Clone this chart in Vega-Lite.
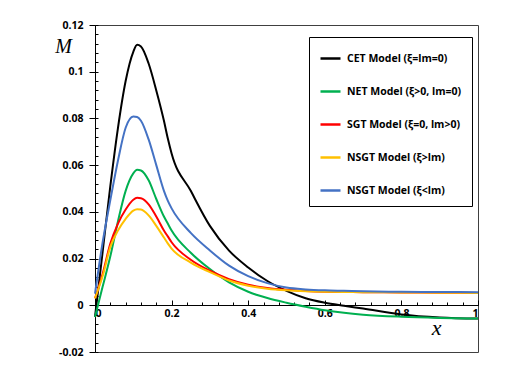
{
  "$schema": "https://vega.github.io/schema/vega-lite/v6.json",
  "width": 383,
  "height": 327,
  "autosize": {"type": "none"},
  "padding": {"left": 95, "top": 25, "right": 32, "bottom": 29},
  "background": "white",
  "config": {
    "view": {"stroke": "#404040", "strokeWidth": 1},
    "axis": {"grid": false, "domainColor": "#000000", "tickColor": "#000000", "labelFont": "Open Sans", "labelFontWeight": 700, "labelFontSize": 10.5, "labelColor": "#000000"}
  },
  "datasets": {
    "curves": [
      {"x": 0, "M": -0.005, "s": "CET Model (ξ=lm=0)"},
      {"x": 0.02, "M": 0.023, "s": "CET Model (ξ=lm=0)"},
      {"x": 0.04, "M": 0.051, "s": "CET Model (ξ=lm=0)"},
      {"x": 0.06, "M": 0.076, "s": "CET Model (ξ=lm=0)"},
      {"x": 0.08, "M": 0.096, "s": "CET Model (ξ=lm=0)"},
      {"x": 0.1, "M": 0.1085, "s": "CET Model (ξ=lm=0)"},
      {"x": 0.11, "M": 0.1115, "s": "CET Model (ξ=lm=0)"},
      {"x": 0.12, "M": 0.1108, "s": "CET Model (ξ=lm=0)"},
      {"x": 0.14, "M": 0.1035, "s": "CET Model (ξ=lm=0)"},
      {"x": 0.16, "M": 0.092, "s": "CET Model (ξ=lm=0)"},
      {"x": 0.18, "M": 0.079, "s": "CET Model (ξ=lm=0)"},
      {"x": 0.19, "M": 0.0715, "s": "CET Model (ξ=lm=0)"},
      {"x": 0.2, "M": 0.065, "s": "CET Model (ξ=lm=0)"},
      {"x": 0.25, "M": 0.049, "s": "CET Model (ξ=lm=0)"},
      {"x": 0.3, "M": 0.034, "s": "CET Model (ξ=lm=0)"},
      {"x": 0.35, "M": 0.0234, "s": "CET Model (ξ=lm=0)"},
      {"x": 0.4, "M": 0.0162, "s": "CET Model (ξ=lm=0)"},
      {"x": 0.45, "M": 0.0104, "s": "CET Model (ξ=lm=0)"},
      {"x": 0.5, "M": 0.0062, "s": "CET Model (ξ=lm=0)"},
      {"x": 0.55, "M": 0.003, "s": "CET Model (ξ=lm=0)"},
      {"x": 0.6, "M": 0.0011, "s": "CET Model (ξ=lm=0)"},
      {"x": 0.65, "M": -0.0002, "s": "CET Model (ξ=lm=0)"},
      {"x": 0.7, "M": -0.0014, "s": "CET Model (ξ=lm=0)"},
      {"x": 0.8, "M": -0.0039, "s": "CET Model (ξ=lm=0)"},
      {"x": 0.9, "M": -0.0052, "s": "CET Model (ξ=lm=0)"},
      {"x": 1, "M": -0.0057, "s": "CET Model (ξ=lm=0)"},

      {"x": 0, "M": -0.005, "s": "NET Model (ξ>0, lm=0)"},
      {"x": 0.02, "M": 0.008, "s": "NET Model (ξ>0, lm=0)"},
      {"x": 0.04, "M": 0.021, "s": "NET Model (ξ>0, lm=0)"},
      {"x": 0.06, "M": 0.036, "s": "NET Model (ξ>0, lm=0)"},
      {"x": 0.08, "M": 0.049, "s": "NET Model (ξ>0, lm=0)"},
      {"x": 0.1, "M": 0.0565, "s": "NET Model (ξ>0, lm=0)"},
      {"x": 0.11, "M": 0.058, "s": "NET Model (ξ>0, lm=0)"},
      {"x": 0.12, "M": 0.0577, "s": "NET Model (ξ>0, lm=0)"},
      {"x": 0.14, "M": 0.0535, "s": "NET Model (ξ>0, lm=0)"},
      {"x": 0.16, "M": 0.0455, "s": "NET Model (ξ>0, lm=0)"},
      {"x": 0.18, "M": 0.038, "s": "NET Model (ξ>0, lm=0)"},
      {"x": 0.19, "M": 0.035, "s": "NET Model (ξ>0, lm=0)"},
      {"x": 0.2, "M": 0.032, "s": "NET Model (ξ>0, lm=0)"},
      {"x": 0.25, "M": 0.0225, "s": "NET Model (ξ>0, lm=0)"},
      {"x": 0.3, "M": 0.0155, "s": "NET Model (ξ>0, lm=0)"},
      {"x": 0.35, "M": 0.0098, "s": "NET Model (ξ>0, lm=0)"},
      {"x": 0.4, "M": 0.0058, "s": "NET Model (ξ>0, lm=0)"},
      {"x": 0.45, "M": 0.0031, "s": "NET Model (ξ>0, lm=0)"},
      {"x": 0.5, "M": 0.0011, "s": "NET Model (ξ>0, lm=0)"},
      {"x": 0.55, "M": -0.0006, "s": "NET Model (ξ>0, lm=0)"},
      {"x": 0.6, "M": -0.0021, "s": "NET Model (ξ>0, lm=0)"},
      {"x": 0.65, "M": -0.0032, "s": "NET Model (ξ>0, lm=0)"},
      {"x": 0.7, "M": -0.004, "s": "NET Model (ξ>0, lm=0)"},
      {"x": 0.8, "M": -0.0049, "s": "NET Model (ξ>0, lm=0)"},
      {"x": 0.9, "M": -0.0054, "s": "NET Model (ξ>0, lm=0)"},
      {"x": 1, "M": -0.0057, "s": "NET Model (ξ>0, lm=0)"},

      {"x": 0, "M": 0.003, "s": "SGT Model (ξ=0, lm>0)"},
      {"x": 0.02, "M": 0.0135, "s": "SGT Model (ξ=0, lm>0)"},
      {"x": 0.04, "M": 0.0264, "s": "SGT Model (ξ=0, lm>0)"},
      {"x": 0.06, "M": 0.035, "s": "SGT Model (ξ=0, lm>0)"},
      {"x": 0.08, "M": 0.041, "s": "SGT Model (ξ=0, lm>0)"},
      {"x": 0.1, "M": 0.0452, "s": "SGT Model (ξ=0, lm>0)"},
      {"x": 0.11, "M": 0.046, "s": "SGT Model (ξ=0, lm>0)"},
      {"x": 0.12, "M": 0.0458, "s": "SGT Model (ξ=0, lm>0)"},
      {"x": 0.14, "M": 0.0432, "s": "SGT Model (ξ=0, lm>0)"},
      {"x": 0.16, "M": 0.038, "s": "SGT Model (ξ=0, lm>0)"},
      {"x": 0.18, "M": 0.032, "s": "SGT Model (ξ=0, lm>0)"},
      {"x": 0.19, "M": 0.0295, "s": "SGT Model (ξ=0, lm>0)"},
      {"x": 0.2, "M": 0.027, "s": "SGT Model (ξ=0, lm>0)"},
      {"x": 0.25, "M": 0.0195, "s": "SGT Model (ξ=0, lm>0)"},
      {"x": 0.3, "M": 0.0148, "s": "SGT Model (ξ=0, lm>0)"},
      {"x": 0.35, "M": 0.0112, "s": "SGT Model (ξ=0, lm>0)"},
      {"x": 0.4, "M": 0.0088, "s": "SGT Model (ξ=0, lm>0)"},
      {"x": 0.45, "M": 0.0074, "s": "SGT Model (ξ=0, lm>0)"},
      {"x": 0.5, "M": 0.0066, "s": "SGT Model (ξ=0, lm>0)"},
      {"x": 0.55, "M": 0.0061, "s": "SGT Model (ξ=0, lm>0)"},
      {"x": 0.6, "M": 0.0058, "s": "SGT Model (ξ=0, lm>0)"},
      {"x": 0.65, "M": 0.0057, "s": "SGT Model (ξ=0, lm>0)"},
      {"x": 0.7, "M": 0.0056, "s": "SGT Model (ξ=0, lm>0)"},
      {"x": 0.8, "M": 0.0055, "s": "SGT Model (ξ=0, lm>0)"},
      {"x": 0.9, "M": 0.0054, "s": "SGT Model (ξ=0, lm>0)"},
      {"x": 1, "M": 0.0053, "s": "SGT Model (ξ=0, lm>0)"},

      {"x": 0, "M": 0.003, "s": "NSGT Model (ξ>lm)"},
      {"x": 0.02, "M": 0.0125, "s": "NSGT Model (ξ>lm)"},
      {"x": 0.04, "M": 0.025, "s": "NSGT Model (ξ>lm)"},
      {"x": 0.06, "M": 0.032, "s": "NSGT Model (ξ>lm)"},
      {"x": 0.08, "M": 0.037, "s": "NSGT Model (ξ>lm)"},
      {"x": 0.1, "M": 0.0405, "s": "NSGT Model (ξ>lm)"},
      {"x": 0.11, "M": 0.0411, "s": "NSGT Model (ξ>lm)"},
      {"x": 0.12, "M": 0.041, "s": "NSGT Model (ξ>lm)"},
      {"x": 0.14, "M": 0.0385, "s": "NSGT Model (ξ>lm)"},
      {"x": 0.16, "M": 0.034, "s": "NSGT Model (ξ>lm)"},
      {"x": 0.18, "M": 0.029, "s": "NSGT Model (ξ>lm)"},
      {"x": 0.19, "M": 0.0265, "s": "NSGT Model (ξ>lm)"},
      {"x": 0.2, "M": 0.0243, "s": "NSGT Model (ξ>lm)"},
      {"x": 0.25, "M": 0.0183, "s": "NSGT Model (ξ>lm)"},
      {"x": 0.3, "M": 0.0142, "s": "NSGT Model (ξ>lm)"},
      {"x": 0.35, "M": 0.0106, "s": "NSGT Model (ξ>lm)"},
      {"x": 0.4, "M": 0.0084, "s": "NSGT Model (ξ>lm)"},
      {"x": 0.45, "M": 0.0071, "s": "NSGT Model (ξ>lm)"},
      {"x": 0.5, "M": 0.0064, "s": "NSGT Model (ξ>lm)"},
      {"x": 0.55, "M": 0.006, "s": "NSGT Model (ξ>lm)"},
      {"x": 0.6, "M": 0.0058, "s": "NSGT Model (ξ>lm)"},
      {"x": 0.65, "M": 0.0057, "s": "NSGT Model (ξ>lm)"},
      {"x": 0.7, "M": 0.0056, "s": "NSGT Model (ξ>lm)"},
      {"x": 0.8, "M": 0.0055, "s": "NSGT Model (ξ>lm)"},
      {"x": 0.9, "M": 0.0054, "s": "NSGT Model (ξ>lm)"},
      {"x": 1, "M": 0.0053, "s": "NSGT Model (ξ>lm)"},

      {"x": 0, "M": 0.005, "s": "NSGT Model (ξ<lm)"},
      {"x": 0.02, "M": 0.027, "s": "NSGT Model (ξ<lm)"},
      {"x": 0.04, "M": 0.045, "s": "NSGT Model (ξ<lm)"},
      {"x": 0.06, "M": 0.062, "s": "NSGT Model (ξ<lm)"},
      {"x": 0.08, "M": 0.076, "s": "NSGT Model (ξ<lm)"},
      {"x": 0.1, "M": 0.0808, "s": "NSGT Model (ξ<lm)"},
      {"x": 0.11, "M": 0.0806, "s": "NSGT Model (ξ<lm)"},
      {"x": 0.12, "M": 0.079, "s": "NSGT Model (ξ<lm)"},
      {"x": 0.14, "M": 0.071, "s": "NSGT Model (ξ<lm)"},
      {"x": 0.16, "M": 0.06, "s": "NSGT Model (ξ<lm)"},
      {"x": 0.18, "M": 0.049, "s": "NSGT Model (ξ<lm)"},
      {"x": 0.19, "M": 0.0448, "s": "NSGT Model (ξ<lm)"},
      {"x": 0.2, "M": 0.0415, "s": "NSGT Model (ξ<lm)"},
      {"x": 0.25, "M": 0.031, "s": "NSGT Model (ξ<lm)"},
      {"x": 0.3, "M": 0.0235, "s": "NSGT Model (ξ<lm)"},
      {"x": 0.35, "M": 0.017, "s": "NSGT Model (ξ<lm)"},
      {"x": 0.4, "M": 0.0125, "s": "NSGT Model (ξ<lm)"},
      {"x": 0.45, "M": 0.0095, "s": "NSGT Model (ξ<lm)"},
      {"x": 0.5, "M": 0.0076, "s": "NSGT Model (ξ<lm)"},
      {"x": 0.55, "M": 0.0068, "s": "NSGT Model (ξ<lm)"},
      {"x": 0.6, "M": 0.0064, "s": "NSGT Model (ξ<lm)"},
      {"x": 0.65, "M": 0.0062, "s": "NSGT Model (ξ<lm)"},
      {"x": 0.7, "M": 0.006, "s": "NSGT Model (ξ<lm)"},
      {"x": 0.8, "M": 0.0058, "s": "NSGT Model (ξ<lm)"},
      {"x": 0.9, "M": 0.0057, "s": "NSGT Model (ξ<lm)"},
      {"x": 1, "M": 0.0056, "s": "NSGT Model (ξ<lm)"}
    ]
  },
  "data": {"name": "curves"},
  "resolve": {"axis": {"x": "independent", "y": "independent"}},
  "layer": [
    {
      "mark": {"type": "point", "opacity": 0},
      "encoding": {
        "x": {"field": "x", "type": "quantitative", "scale": {"domain": [0, 1], "nice": false},
          "axis": {"orient": "bottom", "offset": -47, "values": [0,0.04,0.08,0.12,0.16,0.2,0.24,0.28,0.32,0.36,0.4,0.44,0.48,0.52,0.56,0.6,0.64,0.68,0.72,0.76,0.8,0.84,0.88,0.92,0.96,1], "labels": false, "domain": false, "tickSize": -3, "title": null}},
        "y": {"field": "M", "type": "quantitative", "scale": {"domain": [-0.02, 0.12], "nice": false, "zero": false},
          "axis": {"orient": "left", "values": [-0.02,-0.016,-0.012,-0.008,-0.004,0,0.004,0.008,0.012,0.016,0.02,0.024,0.028,0.032,0.036,0.04,0.044,0.048,0.052,0.056,0.06,0.064,0.068,0.072,0.076,0.08,0.084,0.088,0.092,0.096,0.1,0.104,0.108,0.112,0.116,0.12], "labels": false, "domain": false, "tickSize": -3, "title": null}}
      }
    },
    {
      "mark": {"type": "line", "strokeWidth": 2, "interpolate": "monotone"},
      "encoding": {
        "x": {"field": "x", "type": "quantitative", "scale": {"domain": [0, 1], "nice": false},
          "axis": {"orient": "bottom", "offset": -47, "values": [0,0.2,0.4,0.6,0.8,1], "format": ".1~f", "tickSize": -5, "labelPadding": 8, "labelBaseline": "top",
            "title": "x", "titleFont": "Liberation Serif", "titleFontStyle": "italic", "titleFontWeight": "normal", "titleFontSize": 22, "titleX": 341, "titleY": 22, "titleAlign": "center", "titleBaseline": "middle"}},
        "y": {"field": "M", "type": "quantitative", "scale": {"domain": [-0.02, 0.12], "nice": false, "zero": false},
          "axis": {"orient": "left", "values": [-0.02,0,0.02,0.04,0.06,0.08,0.1,0.12], "format": ".2~f", "labelExpr": "replace(datum.label, '−', '-')", "tickSize": 6, "labelPadding": 6,
            "title": "M", "titleFont": "Liberation Serif", "titleFontStyle": "italic", "titleFontWeight": "normal", "titleFontSize": 20, "titleAngle": 0, "titleX": -32, "titleY": 21, "titleAlign": "center", "titleBaseline": "middle"}},
        "color": {"field": "s", "type": "nominal",
          "scale": {"domain": ["CET Model (ξ=lm=0)", "NET Model (ξ>0, lm=0)", "SGT Model (ξ=0, lm>0)", "NSGT Model (ξ>lm)", "NSGT Model (ξ<lm)"], "range": ["#000000", "#00b050", "#ff0000", "#ffc000", "#4472c4"]},
          "legend": {"orient": "none", "legendX": 214, "legendY": 12, "title": null, "symbolType": "stroke", "symbolSize": 400, "symbolStrokeWidth": 2.5,
            "strokeColor": "#000000", "padding": 10, "rowPadding": 16, "labelFont": "Open Sans", "labelFontWeight": 700, "labelFontSize": 10.5, "labelColor": "#000000", "labelOffset": 5, "fillColor": "white"}}
      }
    }
  ]
}
